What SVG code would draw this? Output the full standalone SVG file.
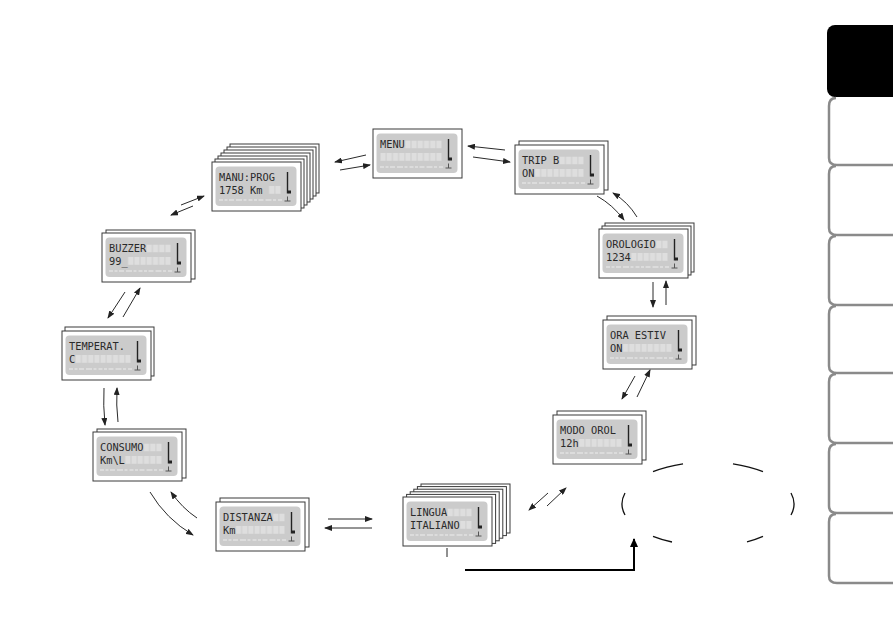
<svg xmlns="http://www.w3.org/2000/svg" xmlns:xlink="http://www.w3.org/1999/xlink" width="893" height="630" viewBox="0 0 893 630">
<style>
.card{fill:#fff;stroke:#3a3a3a;stroke-width:1}
.lcd{font-family:"DejaVu Sans Mono","Liberation Mono",monospace;font-size:11px;fill:#2a2a2a}
.conn{fill:none;stroke:#2a2a2a;stroke-width:1;marker-end:url(#ah)}
.tab{fill:none;stroke:#8a8a8a;stroke-width:2.5}
.ell{fill:none;stroke:#111;stroke-width:1.3}
</style>
<defs>
<marker id="ah" markerWidth="8" markerHeight="6" refX="7" refY="3" orient="auto" markerUnits="userSpaceOnUse"><path d="M0,0 L8,3 L0,6 z" fill="#222"/></marker>
<marker id="ahb" markerWidth="9" markerHeight="8" refX="8" refY="4" orient="auto" markerUnits="userSpaceOnUse"><path d="M0,0 L9,4 L0,8 z" fill="#000"/></marker>
<pattern id="cells" patternUnits="userSpaceOnUse" x="7" y="11.5" width="6.2" height="12.5"><rect x="0.5" y="0" width="5.2" height="8" fill="#dedede"/></pattern>
<rect id="card" width="89" height="49" class="card"/>
<g id="scr">
<rect x="3.5" y="4.5" width="81" height="39.5" rx="4" fill="#cbcbcb"/>
<line x1="75.5" y1="10" x2="75.5" y2="31.5" stroke="#222" stroke-width="1.4"/>
<rect x="76" y="28.5" width="3" height="3" fill="#222"/>
<path d="M75.5,34.5 L75.5,39 M72.5,39 L78.5,39" stroke="#555" stroke-width="1" fill="none"/>
<line x1="7" y1="38" x2="70" y2="38" stroke="#dcdcdc" stroke-width="2" stroke-dasharray="4 1.5 3 1.5 5 2 6 1.5 3 2"/>
</g>
</defs>
<rect width="893" height="630" fill="#fff"/>

<g id="tabs">
<rect x="827" y="25" width="80" height="72" rx="8" fill="#000"/>
<path class="tab" d="M836,98 Q829,98 829,106 L829,158 Q829,165 837,165 L893,165"/>
<path class="tab" d="M836,166 Q829,166 829,174 L829,228 Q829,235 837,235 L893,235"/>
<path class="tab" d="M836,236 Q829,236 829,244 L829,298 Q829,305 837,305 L893,305"/>
<path class="tab" d="M836,306 Q829,306 829,314 L829,366 Q829,373 837,373 L893,373"/>
<path class="tab" d="M836,374 Q829,374 829,382 L829,436 Q829,443 837,443 L893,443"/>
<path class="tab" d="M836,444 Q829,444 829,452 L829,506 Q829,513 837,513 L893,513"/>
<path class="tab" d="M836,514 Q829,514 829,522 L829,576 Q829,583 837,583 L893,583"/>
</g>

<g id="manutprog" transform="translate(212,162)">
<use href="#card" x="18" y="-18"/><use href="#card" x="15" y="-15"/><use href="#card" x="12" y="-12"/><use href="#card" x="9" y="-9"/><use href="#card" x="6" y="-6"/><use href="#card" x="3" y="-3"/>
<use href="#card"/><use href="#scr"/>
<rect x="56.6" y="24" width="12.4" height="8" fill="url(#cells)"/>
<g transform="scale(0.94,1)">
<text class="lcd" x="7.4" y="19.5">MANU:PROG</text>
<text class="lcd" x="7.4" y="32.5">1758 Km</text>
</g>
</g>

<g id="menu" transform="translate(373,129)">
<use href="#card"/><use href="#scr"/>
<rect x="31.8" y="11.5" width="37.2" height="8" fill="url(#cells)"/>
<rect x="7" y="24" width="62" height="8" fill="url(#cells)"/>
<g transform="scale(0.94,1)">
<text class="lcd" x="7.4" y="19.5">MENU</text>
</g>
</g>

<g id="trip" transform="translate(515,145)">
<use href="#card" x="4" y="-4"/>
<use href="#card"/><use href="#scr"/>
<rect x="44.2" y="11.5" width="24.8" height="8" fill="url(#cells)"/>
<rect x="19.4" y="24" width="49.6" height="8" fill="url(#cells)"/>
<g transform="scale(0.94,1)">
<text class="lcd" x="7.4" y="19.5">TRIP B</text>
<text class="lcd" x="7.4" y="32.5">ON</text>
</g>
</g>

<g id="orologio" transform="translate(599,229)">
<use href="#card" x="6" y="-6"/><use href="#card" x="3" y="-3"/>
<use href="#card"/><use href="#scr"/>
<rect x="56.6" y="11.5" width="12.4" height="8" fill="url(#cells)"/>
<rect x="31.8" y="24" width="37.2" height="8" fill="url(#cells)"/>
<g transform="scale(0.94,1)">
<text class="lcd" x="7.4" y="19.5">OROLOGIO</text>
<text class="lcd" x="7.4" y="32.5">1234</text>
</g>
</g>

<g id="oraestiv" transform="translate(603,320)">
<use href="#card" x="4" y="-4"/>
<use href="#card"/><use href="#scr"/>
<rect x="19.4" y="24" width="49.6" height="8" fill="url(#cells)"/>
<g transform="scale(0.94,1)">
<text class="lcd" x="7.4" y="19.5">ORA ESTIV</text>
<text class="lcd" x="7.4" y="32.5">ON</text>
</g>
</g>

<g id="modoorol" transform="translate(553,415)">
<use href="#card" x="4" y="-4"/>
<use href="#card"/><use href="#scr"/>
<rect x="25.6" y="24" width="43.4" height="8" fill="url(#cells)"/>
<g transform="scale(0.94,1)">
<text class="lcd" x="7.4" y="19.5">MODO OROL</text>
<text class="lcd" x="7.4" y="32.5">12h</text>
</g>
</g>

<g id="lingua" transform="translate(403,497)">
<use href="#card" x="18" y="-13"/><use href="#card" x="14.4" y="-10.4"/><use href="#card" x="10.8" y="-7.8"/><use href="#card" x="7.2" y="-5.2"/><use href="#card" x="3.6" y="-2.6"/>
<use href="#card"/><use href="#scr"/>
<rect x="44.2" y="11.5" width="24.8" height="8" fill="url(#cells)"/>
<rect x="56.6" y="24" width="12.4" height="8" fill="url(#cells)"/>
<g transform="scale(0.94,1)">
<text class="lcd" x="7.4" y="19.5">LINGUA</text>
<text class="lcd" x="7.4" y="32.5">ITALIANO</text>
</g>
</g>

<g id="distanza" transform="translate(216,502)">
<use href="#card" x="4" y="-4"/>
<use href="#card"/><use href="#scr"/>
<rect x="56.6" y="11.5" width="12.4" height="8" fill="url(#cells)"/>
<rect x="19.4" y="24" width="49.6" height="8" fill="url(#cells)"/>
<g transform="scale(0.94,1)">
<text class="lcd" x="7.4" y="19.5">DISTANZA</text>
<text class="lcd" x="7.4" y="32.5">Km</text>
</g>
</g>

<g id="consumo" transform="translate(93,432)">
<use href="#card" x="4" y="-3"/>
<use href="#card"/><use href="#scr"/>
<rect x="50.4" y="11.5" width="18.6" height="8" fill="url(#cells)"/>
<rect x="31.8" y="24" width="37.2" height="8" fill="url(#cells)"/>
<g transform="scale(0.94,1)">
<text class="lcd" x="7.4" y="19.5">CONSUMO</text>
<text class="lcd" x="7.4" y="32.5">Km\L</text>
</g>
</g>

<g id="temperat" transform="translate(62,331)">
<use href="#card" x="3" y="-4"/>
<use href="#card"/><use href="#scr"/>
<rect x="13.2" y="24" width="55.8" height="8" fill="url(#cells)"/>
<g transform="scale(0.94,1)">
<text class="lcd" x="7.4" y="19.5">TEMPERAT.</text>
<text class="lcd" x="7.4" y="32.5">C</text>
</g>
</g>

<g id="buzzer" transform="translate(102,233)">
<use href="#card" x="4" y="-3"/>
<use href="#card"/><use href="#scr"/>
<rect x="44.2" y="11.5" width="24.8" height="8" fill="url(#cells)"/>
<rect x="25.6" y="24" width="43.4" height="8" fill="url(#cells)"/>
<g transform="scale(0.94,1)">
<text class="lcd" x="7.4" y="19.5">BUZZER</text>
<text class="lcd" x="7.4" y="32.5">99_</text>
</g>
</g>

<g id="connectors">
<path class="conn" d="M193,206 L171,215"/>
<path class="conn" d="M181,205 L204,196"/>
<path class="conn" d="M366,155 L335,162"/>
<path class="conn" d="M340,170 L370,165"/>
<path class="conn" d="M505,150 L468,146"/>
<path class="conn" d="M473,157 L510,162"/>
<path class="conn" d="M597,196 Q613,205 624,220"/>
<path class="conn" d="M637,217 Q628,202 613,193"/>
<path class="conn" d="M653,282 L653,307"/>
<path class="conn" d="M666,305 L666,281"/>
<path class="conn" d="M635,376 L622,399"/>
<path class="conn" d="M637,397 L650,370"/>
<path class="conn" d="M548,493 L529,510"/>
<path class="conn" d="M547,506 L566,488"/>
<path class="conn" d="M328,519 L372,519"/>
<path class="conn" d="M372,528 L325,528"/>
<path class="conn" d="M150,492 Q166,519 193,535"/>
<path class="conn" d="M197,518 Q182,508 171,492"/>
<path class="conn" d="M104,388 Q103,405 105,425"/>
<path class="conn" d="M118,422 Q116,405 117,388"/>
<path class="conn" d="M125,292 L108,318"/>
<path class="conn" d="M123,317 L140,288"/>
<line x1="447" y1="548" x2="447" y2="557" stroke="#222" stroke-width="1"/>
<path d="M465,570 L634,570 L634,539" fill="none" stroke="#000" stroke-width="2" marker-end="url(#ahb)"/>
</g>

<g id="ellipse">
<path class="ell" d="M653,471.7 A86,42 0 0,1 683,463.8"/>
<path class="ell" d="M733,463.8 A86,42 0 0,1 763,471.7"/>
<path class="ell" d="M625,493 A86,42 0 0,0 625,515"/>
<path class="ell" d="M791,493 A86,42 0 0,1 791,515"/>
<path class="ell" d="M653,536.3 A86,42 0 0,0 672,542"/>
<path class="ell" d="M747,541.8 A86,42 0 0,0 763,536.3"/>
</g>
</svg>
